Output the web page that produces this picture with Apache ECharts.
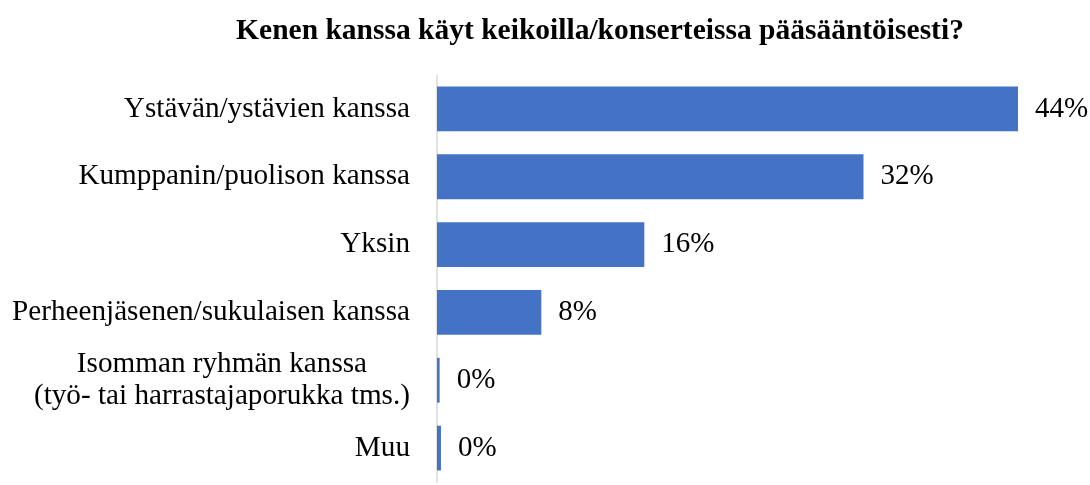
<!DOCTYPE html>
<html>
<head>
<meta charset="utf-8">
<script src="https://cdn.jsdelivr.net/npm/echarts@6/dist/echarts.min.js"></script>
<style>
  html, body { margin: 0; padding: 0; background: #fff; }
  #chart { width: 1090px; height: 485px; }
</style>
</head>
<body>
<div id="chart"></div>
<script>
var categories = [
  'Ystävän/ystävien kanssa',
  'Kumppanin/puolison kanssa',
  'Yksin',
  'Perheenjäsenen/sukulaisen kanssa',
  'Isomman ryhmän kanssa\n(työ- tai harrastajaporukka tms.)',
  'Muu'
]
var shares = [44.0, 32.3, 15.7, 7.9, 0.2, 0.3]

var font = '"Liberation Serif", "Times New Roman", serif'

var chart = echarts.init(document.getElementById('chart'))
chart.setOption({
  animation: false,
  title: {
    text: 'Kenen kanssa käyt keikoilla/konserteissa pääsääntöisesti?',
    left: 595,
    top: 11,
    textAlign: 'center',
    textStyle: {
      fontFamily: font,
      fontWeight: 'bold',
      fontSize: 29.5,
      color: '#000'
    }
  },
  grid: {
    left: 437,
    right: 72,
    top: 75,
    bottom: 3,
    containLabel: false
  },
  xAxis: {
    type: 'value',
    min: 0,
    max: 44,
    show: false
  },
  yAxis: {
    type: 'category',
    inverse: true,
    data: categories,
    axisLine: { lineStyle: { color: '#d9d9d9', width: 1.5 } },
    axisTick: { show: false },
    axisLabel: {
      margin: 27,
      fontFamily: font,
      fontSize: 29.2,
      lineHeight: 32,
      color: '#000',
      // multi-line labels: lines centered on each other
      formatter: function (v) {
        if (v.indexOf('\n') < 0) return v
        return v.split('\n').map(function (s) { return '{c|' + s + '}' }).join('\n')
      },
      rich: {
        c: {
          align: 'center',
          fontFamily: font,
          fontSize: 29.2,
          lineHeight: 32,
          color: '#000'
        }
      }
    }
  },
  series: [
    {
      type: 'bar',
      data: shares,
      barCategoryGap: '34%',
      itemStyle: { color: '#4472C4' },
      label: {
        show: true,
        position: 'right',
        distance: 17,
        fontFamily: font,
        fontSize: 29,
        color: '#000',
        formatter: function (p) { return Math.round(p.value) + '%' }
      }
    }
  ]
})
</script>
</body>
</html>
